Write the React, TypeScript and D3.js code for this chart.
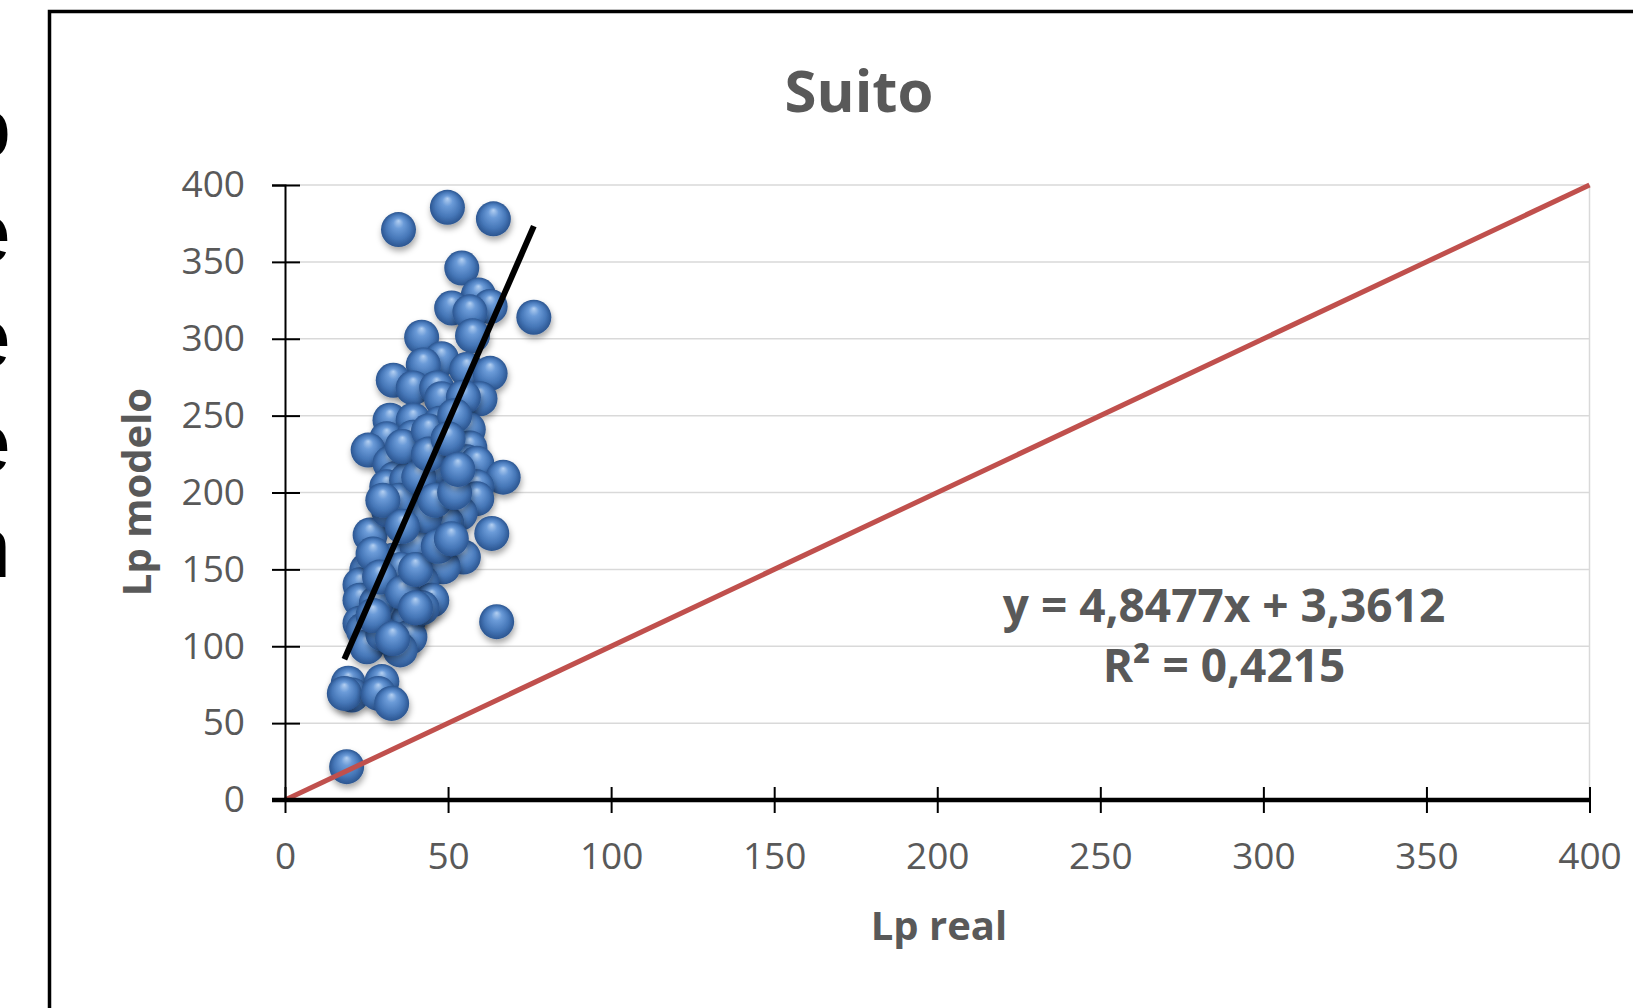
import * as React from "react"
import * as d3 from "d3"

// values (Lp real vs Lp modelo)
const lpReal = [
  34.8, 49.8, 63.9, 54.2, 59.3, 62.9, 51.1, 56.7, 76.3, 41.9, 57.5,
  48.0, 42.4, 55.7, 62.9, 33.2, 39.3, 46.5, 48.0, 59.8, 54.7,
  32.2, 39.3, 56.2, 47.5, 31.2, 39.3, 25.5, 56.7, 32.2, 38.3, 49.1, 55.7, 58.8,
  33.7, 38.3, 48.0, 66.9, 58.8, 31.2, 37.3, 49.6, 58.8, 32.2, 38.3, 53.7,
  49.6, 48.5, 26.1, 63.4, 44.5, 54.7, 48.5, 25.1, 33.2, 41.9, 32.2, 23.0,
  23.0, 38.3, 30.1, 64.9, 23.0, 24.0, 37.8, 38.3, 25.1, 35.3, 19.4, 20.5,
  18.2, 29.7, 28.6, 32.7, 18.9, 31.7, 37.3, 40.5, 35.5, 45.0, 28.0, 30.0,
  42.0, 36.0, 44.0, 52.0, 45.0,
  27.0, 29.0, 36.0, 40.0, 43.0, 35.0, 41.0, 46.0, 52.0, 44.0, 50.0, 53.0,
  30.0, 27.0, 33.0, 40.0, 47.0, 51.0, 36.0,
]
const lpModelo = [
  371, 385.5, 378, 346, 328.5, 321, 320, 317.5, 314, 301, 302,
  287, 283, 280, 277.5, 273, 268, 268, 261, 261, 262,
  247, 247, 241, 245, 235, 236, 227.6, 229, 219, 225, 221, 220, 219,
  209, 210, 208, 210, 203.7, 203.7, 202.7, 206, 196, 187.5, 180, 186.4,
  180, 182, 172.4, 173.4, 171, 158, 151.7, 149.6, 156, 142, 136.6, 140,
  130, 119, 121.4, 116, 115, 110.6, 117, 106, 99.7, 97.6, 76, 68.3,
  69.3, 77, 69.3, 62.8, 21.7, 188.6, 208, 165, 150, 130, 128, 108,
  125, 230, 240, 250, 215,
  160, 145, 135, 150, 185, 195, 210, 195, 200, 225, 235, 215,
  195, 120, 105, 125, 165, 170, 178,
]

const axisTicks = [0, 50, 100, 150, 200, 250, 300, 350, 400]
const trendSlope = 4.8477
const trendIntercept = 3.3612
const equationLines = ["y = 4,8477x + 3,3612", "R² = 0,4215"]
const chartTitle = "Suito"
const xTitle = "Lp real"
const yTitle = "Lp modelo"
const sideLetters = ["o", "e", "é", "e", "n"]

const FONT = "'Open Sans', 'Noto Sans', sans-serif"
const GREY = "#595959"

function render(svgRef: React.RefObject<SVGSVGElement>) {
  const svg = d3.select(svgRef.current)
  svg.selectAll("*").remove()

  const x = d3.scaleLinear().domain([0, 400]).range([285, 1589.5])
  const y = d3.scaleLinear().domain([0, 400]).range([800, 185])

  const defs = svg.append("defs")
  const grad = defs
    .append("radialGradient")
    .attr("id", "ball")
    .attr("cx", "50%")
    .attr("cy", "50%")
    .attr("r", "50%")
    .attr("fx", "50%")
    .attr("fy", "25%")
  const stops = [
    ["0%", "#b4d0f2"],
    ["30%", "#6b9bd8"],
    ["70%", "#4677b8"],
    ["100%", "#2b5590"],
  ]
  grad
    .selectAll("stop")
    .data(stops)
    .join("stop")
    .attr("offset", (d) => d[0])
    .attr("stop-color", (d) => d[1])

  const shadow = defs
    .append("filter")
    .attr("id", "shadow")
    .attr("x", "-50%")
    .attr("y", "-50%")
    .attr("width", "200%")
    .attr("height", "200%")
  shadow
    .append("feDropShadow")
    .attr("dx", 1)
    .attr("dy", 4)
    .attr("stdDeviation", 3)
    .attr("flood-color", "#000")
    .attr("flood-opacity", 0.35)

  // outer frame (cut by the page edges)
  svg
    .append("rect")
    .attr("x", 49.5)
    .attr("y", 11.5)
    .attr("width", 2000)
    .attr("height", 2000)
    .attr("fill", "none")
    .attr("stroke", "#000")
    .attr("stroke-width", 3.5)

  // text cut off on the left
  svg
    .append("g")
    .selectAll("text")
    .data(sideLetters)
    .join("text")
    .attr("x", 11)
    .attr("y", (_d, i) => 157 + i * 105)
    .attr("text-anchor", "end")
    .attr("font-family", "'Liberation Sans', Arial, sans-serif")
    .attr("font-size", 86)
    .attr("fill", "#000")
    .text((d) => d)

  // gridlines
  svg
    .append("g")
    .selectAll("line")
    .data(axisTicks.filter((t) => t > 0))
    .join("line")
    .attr("x1", x(0))
    .attr("x2", x(400))
    .attr("y1", (d) => y(d))
    .attr("y2", (d) => y(d))
    .attr("stroke", "#d9d9d9")
    .attr("stroke-width", 1.5)
  svg
    .append("line")
    .attr("x1", x(400))
    .attr("x2", x(400))
    .attr("y1", y(0))
    .attr("y2", y(400))
    .attr("stroke", "#d9d9d9")
    .attr("stroke-width", 1.5)

  // points
  const pts = lpReal.map((v, i) => [v, lpModelo[i]])
  svg
    .append("g")
    .selectAll("circle")
    .data(pts)
    .join("circle")
    .attr("cx", (d) => x(d[0]))
    .attr("cy", (d) => y(d[1]))
    .attr("r", 17.5)
    .attr("fill", "url(#ball)")
    .attr("filter", "url(#shadow)")

  // y = x reference line
  const line = d3
    .line<number[]>()
    .x((d) => x(d[0]))
    .y((d) => y(d[1]))
  svg
    .append("path")
    .attr("d", line([[0, 0], [400, 400]]))
    .attr("stroke", "#c0504d")
    .attr("stroke-width", 5)
    .attr("fill", "none")

  // linear trendline over the data range
  const [xmin, xmax] = d3.extent(lpReal) as [number, number]
  svg
    .append("path")
    .attr(
      "d",
      line([xmin, xmax].map((v) => [v, trendSlope * v + trendIntercept]))
    )
    .attr("stroke", "#000")
    .attr("stroke-width", 6)
    .attr("fill", "none")

  // y axis
  const yAxis = svg
    .append("g")
    .attr("transform", `translate(${x(0)},0)`)
    .call(
      d3.axisLeft(y).tickValues(axisTicks).tickSize(13).tickPadding(27)
    )
  svg
    .append("g")
    .attr("transform", `translate(${x(0)},0)`)
    .call(
      d3
        .axisRight(y)
        .tickValues(axisTicks)
        .tickSize(15)
        .tickFormat(() => "")
    )
    .call((g) => g.select(".domain").remove())
    .selectAll(".tick line")
    .attr("stroke", "#000")
    .attr("stroke-width", 2)
  yAxis.select(".domain").attr("stroke", "#000").attr("stroke-width", 2)
  yAxis.selectAll(".tick line").attr("stroke", "#000").attr("stroke-width", 2)
  yAxis
    .selectAll(".tick text")
    .attr("font-family", FONT)
    .attr("font-size", 37)
    .attr("fill", GREY)

  // x axis
  const xAxis = svg
    .append("g")
    .attr("transform", `translate(0,${y(0)})`)
    .call(
      d3
        .axisBottom(x)
        .tickValues(axisTicks)
        .tickSize(13)
        .tickSizeOuter(0)
        .tickPadding(30)
    )
  svg
    .append("g")
    .attr("transform", `translate(0,${y(0)})`)
    .call(
      d3
        .axisTop(x)
        .tickValues(axisTicks)
        .tickSize(13)
        .tickFormat(() => "")
    )
    .call((g) => g.select(".domain").remove())
    .selectAll(".tick line")
    .attr("stroke", "#000")
    .attr("stroke-width", 2)
  xAxis.select(".domain").remove()
  xAxis
    .append("line")
    .attr("x1", x(0) - 13)
    .attr("x2", x(400))
    .attr("stroke", "#000")
    .attr("stroke-width", 4.5)
  xAxis.selectAll(".tick line").attr("stroke", "#000").attr("stroke-width", 2)
  xAxis
    .selectAll(".tick text")
    .attr("font-family", FONT)
    .attr("font-size", 37)
    .attr("fill", GREY)

  // titles
  svg
    .append("text")
    .attr("x", 859)
    .attr("y", 112)
    .attr("text-anchor", "middle")
    .attr("font-family", FONT)
    .attr("font-weight", "bold")
    .attr("font-size", 58)
    .attr("fill", GREY)
    .text(chartTitle)

  svg
    .append("text")
    .attr("x", 939)
    .attr("y", 940)
    .attr("text-anchor", "middle")
    .attr("font-family", FONT)
    .attr("font-weight", "bold")
    .attr("font-size", 40)
    .attr("fill", GREY)
    .text(xTitle)

  svg
    .append("text")
    .attr("transform", "translate(151,492) rotate(-90)")
    .attr("text-anchor", "middle")
    .attr("font-family", FONT)
    .attr("font-weight", "bold")
    .attr("font-size", 40)
    .attr("fill", GREY)
    .text(yTitle)

  // trendline label
  svg
    .append("g")
    .selectAll("text")
    .data(equationLines)
    .join("text")
    .attr("x", 1224)
    .attr("y", (_d, i) => 622 + i * 60)
    .attr("text-anchor", "middle")
    .attr("font-family", FONT)
    .attr("font-weight", "bold")
    .attr("font-size", 46)
    .attr("fill", GREY)
    .text((d) => d)
}

export default function App(): React.JSX.Element {
  const svgRef = React.useRef<SVGSVGElement>(null)

  React.useEffect(() => {
    render(svgRef)
  }, [])

  return (
    <svg
      ref={svgRef}
      width={1633}
      height={1008}
      style={{ position: "absolute", left: 0, top: 0, background: "#fff" }}
    />
  )
}
